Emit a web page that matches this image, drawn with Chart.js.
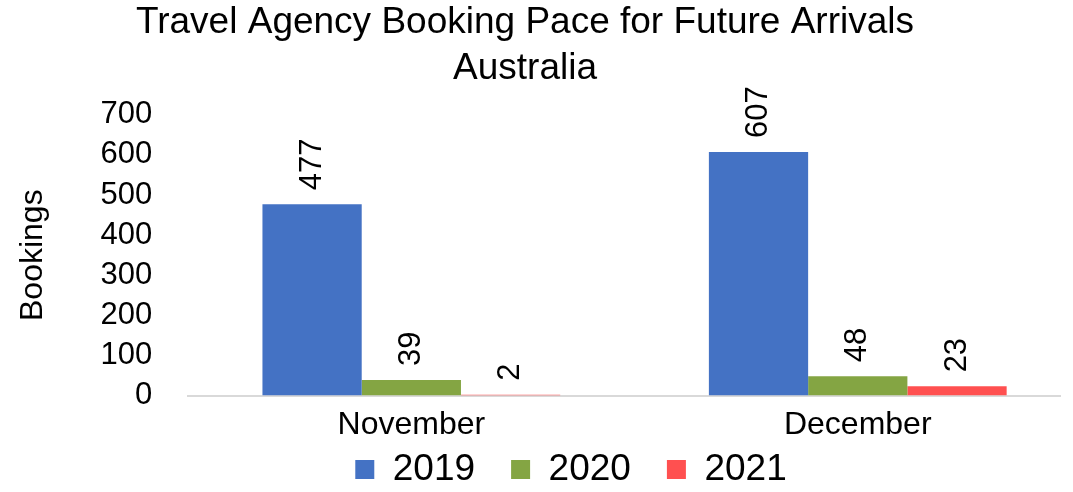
<!DOCTYPE html>
<html>
<head>
<meta charset="utf-8">
<script src="https://cdn.jsdelivr.net/npm/chart.js@4.4.0/dist/chart.umd.min.js"></script>
<style>
  html, body { margin: 0; padding: 0; background: #fff; }
  #wrap { width: 1073px; height: 492px; }
</style>
</head>
<body>
<div id="wrap"><canvas id="bookingChart"></canvas></div>
<script>
var categories = ['November', 'December'];
var seriesNames = ['2019', '2020', '2021'];
var values2019 = [477, 607];
var values2020 = [39, 48];
var values2021 = [2, 23];
var yTicks = [0, 100, 200, 300, 400, 500, 600, 700];

var blue = '#4472C4';
var green = '#84A543';
var red = '#FF5050';

// draws the value above each bar, turned sideways
var barLabels = {
    id: 'barLabels',
    afterDatasetsDraw: function (chart) {
        var ctx = chart.ctx;
        ctx.save();
        ctx.font = '31px "Liberation Sans", Arial, sans-serif';
        ctx.fillStyle = '#000';
        ctx.textAlign = 'left';
        ctx.textBaseline = 'middle';
        chart.data.datasets.forEach(function (ds, i) {
            var meta = chart.getDatasetMeta(i);
            meta.data.forEach(function (bar, j) {
                ctx.save();
                ctx.translate(bar.x, bar.y - 14);
                ctx.rotate(-Math.PI / 2);
                ctx.fillText(String(ds.data[j]), 0, 0);
                ctx.restore();
            });
        });
        ctx.restore();
    }
};

// title and legend sit a little off centre in the original
var nudge = {
    id: 'nudge',
    afterLayout: function (chart) {
        chart.titleBlock.left -= 12;
        chart.titleBlock.right -= 12;
        var lg = chart.legend;
        lg.left += 34;
        lg.right += 34;
        lg.top = 415;
        lg.bottom = 492;
    }
};

var chartElem = document.getElementById('bookingChart').getContext('2d');

var bookingChart = new Chart(chartElem, {
    type: 'bar',
    data: {
        labels: categories,
        datasets: [{
            label: seriesNames[0],
            data: values2019,
            backgroundColor: blue
        }, {
            label: seriesNames[1],
            data: values2020,
            backgroundColor: green
        }, {
            label: seriesNames[2],
            data: values2021,
            backgroundColor: red
        }]
    },
    plugins: [barLabels, nudge],
    options: {
        responsive: true,
        maintainAspectRatio: false,
        animation: false,
        categoryPercentage: 0.667,
        barPercentage: 1,
        layout: {
            padding: { left: 14, right: 13, top: 0, bottom: 0 }
        },
        font: { family: '"Liberation Sans", Arial, sans-serif' },
        plugins: {
            title: {
                display: true,
                text: ['Travel Agency Booking Pace for Future Arrivals', 'Australia'],
                color: '#000',
                font: { size: 37, weight: 'normal', lineHeight: 1.24 },
                padding: { top: 0, bottom: 23 }
            },
            legend: {
                position: 'bottom',
                maxHeight: 46,
                labels: {
                    color: '#000',
                    font: { size: 37 },
                    boxWidth: 19,
                    boxHeight: 19,
                    padding: 36
                }
            },
            tooltip: { enabled: false }
        },
        scales: {
            x: {
                // the groups are not centred in their halves in the original
                afterBuildTicks: function (axis) {
                    axis._valueRange = 1.953;
                },
                grid: { display: false },
                border: { display: true, color: '#d9d9d9', width: 2 },
                ticks: { color: '#000', font: { size: 32 }, padding: 2 }
            },
            y: {
                min: 0,
                max: 700,
                afterBuildTicks: function (axis) {
                    axis.ticks = yTicks.map(function (v) { return { value: v }; });
                },
                grid: { display: false },
                border: { display: false },
                ticks: { color: '#000', font: { size: 31 }, padding: 28, autoSkip: false },
                title: {
                    display: true,
                    text: 'Bookings',
                    color: '#000',
                    font: { size: 32 },
                    padding: { top: 0, bottom: 20 }
                }
            }
        }
    }
});
</script>
</body>
</html>
